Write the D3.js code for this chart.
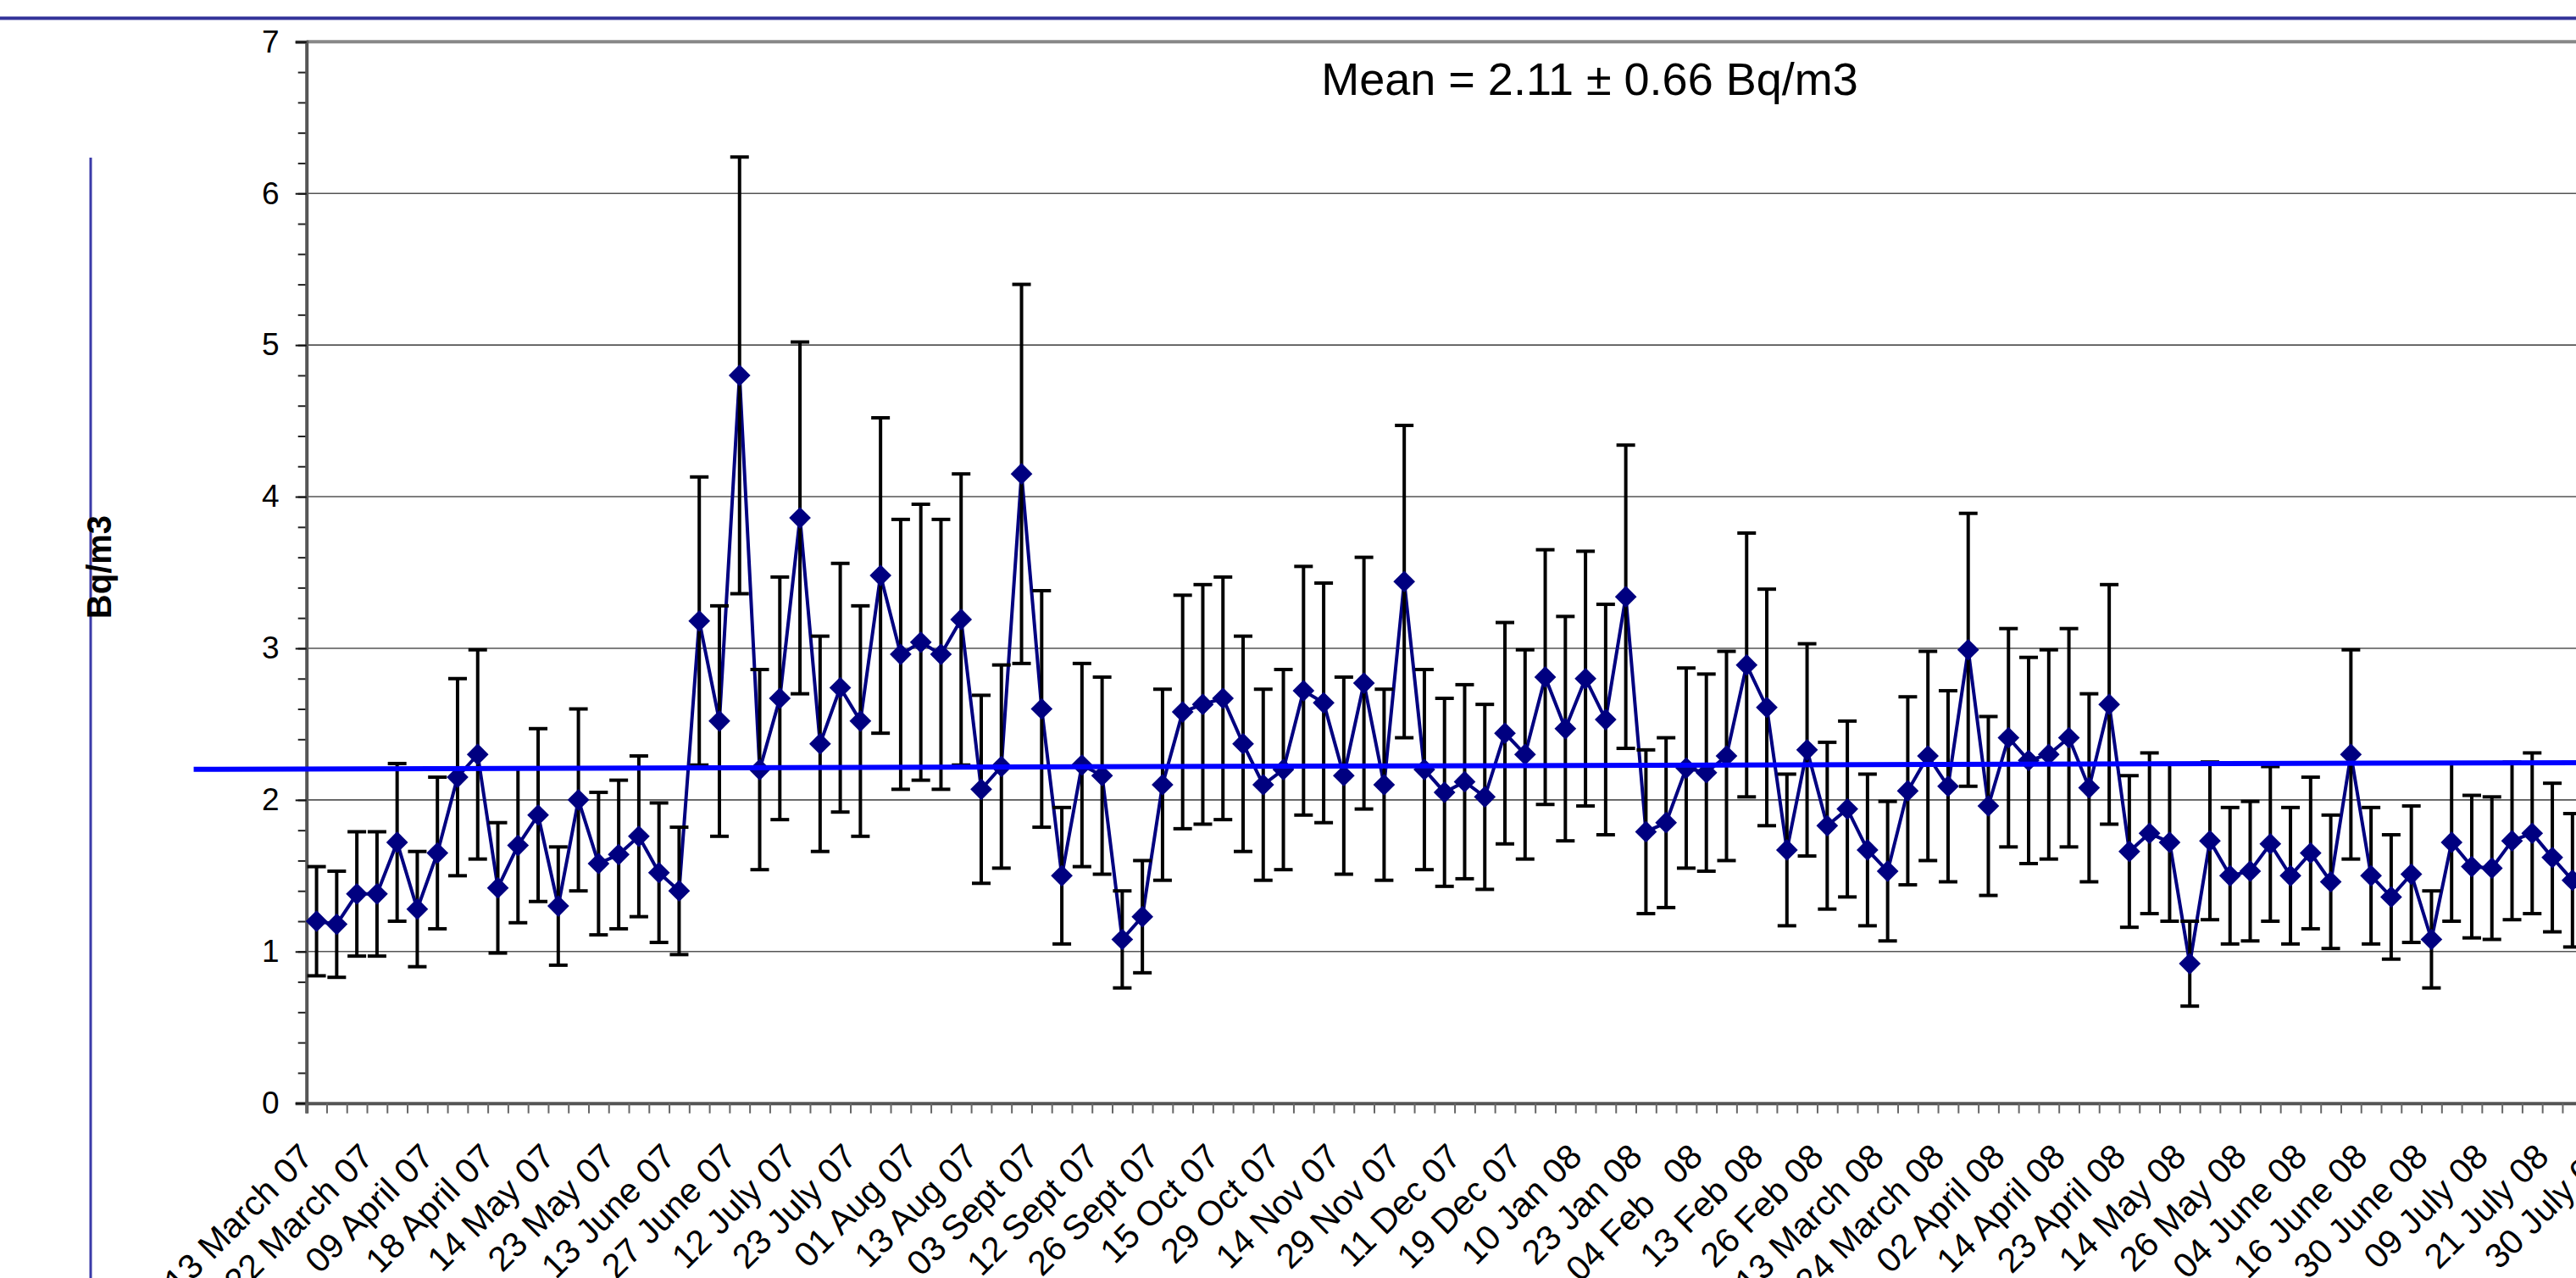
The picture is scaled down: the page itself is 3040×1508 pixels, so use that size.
<!DOCTYPE html>
<html>
<head>
<meta charset="utf-8">
<script src="https://cdn.jsdelivr.net/npm/d3@7"></script>
<style>
  html, body { margin: 0; padding: 0; background: #fff; overflow: hidden; }
  svg { display: block; font-family: "Liberation Sans", Arial, sans-serif; }
</style>
</head>
<body>
<div id="chart"></div>
<script>
// Radon in air, Bq/m3, sampled Mar 2007 - Jul 2008 (Excel style line chart with 30% error bars)

// category labels, one for every third sample
const LABELS = [
  "13 March 07", "22 March 07", "09 April 07", "18 April 07", "14 May 07",
  "23 May 07", "13 June 07", "27 June 07", "12 July 07", "23 July 07",
  "01 Aug 07", "13 Aug 07", "03 Sept 07", "12 Sept 07", "26 Sept 07",
  "15 Oct 07", "29 Oct 07", "14 Nov 07", "29 Nov 07", "11 Dec 07",
  "19 Dec 07", "10 Jan 08", "23 Jan 08", "04 Feb   08", "13 Feb 08",
  "26 Feb 08", "13 March 08", "24 March 08", "02 April 08", "14 April 08",
  "23 April 08", "14 May 08", "26 May 08", "04 June 08", "16 June 08",
  "30 June 08", "09 July 08", "21 July 08", "30 July 08"
];
const LABEL_STEP = 3;

// measured concentration
const VALUES = [
  1.20, 1.18, 1.38, 1.38, 1.72, 1.28, 1.65, 2.15, 2.30, 1.42,
  1.70, 1.90, 1.30, 2.00, 1.58, 1.64, 1.76, 1.52, 1.40, 3.18,
  2.52, 4.80, 2.20, 2.67, 3.86, 2.37, 2.74, 2.52, 3.48, 2.96,
  3.04, 2.96, 3.19, 2.07, 2.22, 4.15, 2.60, 1.50, 2.23, 2.16,
  1.08, 1.23, 2.10, 2.58, 2.63, 2.67, 2.37, 2.10, 2.20, 2.72,
  2.64, 2.16, 2.77, 2.10, 3.44, 2.20, 2.05, 2.12, 2.02, 2.44,
  2.30, 2.81, 2.47, 2.80, 2.53, 3.34, 1.79, 1.85, 2.21, 2.18,
  2.29, 2.89, 2.61, 1.67, 2.33, 1.83, 1.94, 1.67, 1.53, 2.06,
  2.29, 2.09, 2.99, 1.96, 2.41, 2.26, 2.30, 2.41, 2.08, 2.63,
  1.66, 1.78, 1.72, 0.92, 1.73, 1.50, 1.53, 1.71, 1.50, 1.65,
  1.46, 2.30, 1.50, 1.36, 1.51, 1.08, 1.72, 1.56, 1.55, 1.73,
  1.78, 1.62, 1.47
];

// half length of each error bar
const ERRORS = [
  0.36, 0.35, 0.41, 0.41, 0.52, 0.38, 0.50, 0.65, 0.69, 0.43,
  0.51, 0.57, 0.39, 0.60, 0.47, 0.49, 0.53, 0.46, 0.42, 0.95,
  0.76, 1.44, 0.66, 0.80, 1.16, 0.71, 0.82, 0.76, 1.04, 0.89,
  0.91, 0.89, 0.96, 0.62, 0.67, 1.25, 0.78, 0.45, 0.67, 0.65,
  0.32, 0.37, 0.63, 0.77, 0.79, 0.80, 0.71, 0.63, 0.66, 0.82,
  0.79, 0.65, 0.83, 0.63, 1.03, 0.66, 0.62, 0.64, 0.61, 0.73,
  0.69, 0.84, 0.74, 0.84, 0.76, 1.00, 0.54, 0.56, 0.66, 0.65,
  0.69, 0.87, 0.78, 0.50, 0.70, 0.55, 0.58, 0.50, 0.46, 0.62,
  0.69, 0.63, 0.90, 0.59, 0.72, 0.68, 0.69, 0.72, 0.62, 0.79,
  0.50, 0.53, 0.52, 0.28, 0.52, 0.45, 0.46, 0.51, 0.45, 0.50,
  0.44, 0.69, 0.45, 0.41, 0.45, 0.32, 0.52, 0.47, 0.47, 0.52,
  0.53, 0.49, 0.44
];

const Y_MAJOR = [0, 1, 2, 3, 4, 5, 6, 7];
const Y_GRID = [1, 2, 3, 4, 5, 6];

// hand drawn mean line (category position, value)
const MEAN_POS = [-5.6, 116];
const MEAN_VAL = [2.202, 2.247];
const MEAN_TEXT = "Mean = 2.11 \u00b1 0.66 Bq/m3";
const Y_TITLE = "Bq/m3";

const W = 3040, H = 1508;
const N_CATS = 116;
const STEP = 23.77;
const LEFT = 361.7, TOP = 49.3, BOTTOM = 1301.7;

const x = d3.scaleLinear().domain([0, N_CATS]).range([LEFT, LEFT + N_CATS * STEP]);
const y = d3.scaleLinear().domain([0, 7]).range([BOTTOM, TOP]);

const svg = d3.select("#chart").append("svg")
  .attr("width", W)
  .attr("height", H);

// slide decoration: top rule and left rule
svg.append("line")
  .attr("x1", 0).attr("x2", W)
  .attr("y1", 21.5).attr("y2", 21.5)
  .attr("stroke", "#333399").attr("stroke-width", 4);
svg.append("line")
  .attr("x1", 107).attr("x2", 107)
  .attr("y1", 186).attr("y2", H)
  .attr("stroke", "#3a3aa8").attr("stroke-width", 3);

// gridlines
svg.append("g")
  .selectAll("line")
  .data(Y_GRID)
  .join("line")
  .attr("x1", LEFT).attr("x2", x(N_CATS))
  .attr("y1", d => y(d)).attr("y2", d => y(d))
  .attr("stroke", "#555").attr("stroke-width", 1.6);

// plot border top
svg.append("line")
  .attr("x1", LEFT).attr("x2", x(N_CATS))
  .attr("y1", y(7)).attr("y2", y(7))
  .attr("stroke", "#888").attr("stroke-width", 4);

// y axis, minor then major ticks
const yMinor = svg.append("g")
  .attr("transform", `translate(${LEFT},0)`)
  .call(d3.axisLeft(y).tickValues(d3.range(0, 36).map(d => d / 5)).tickSize(10).tickFormat(""));
yMinor.select(".domain").remove();
yMinor.selectAll("line").attr("stroke", "#222").attr("stroke-width", 2);

const yAxis = svg.append("g")
  .attr("transform", `translate(${LEFT},0)`)
  .call(d3.axisLeft(y).tickValues(Y_MAJOR).tickSize(13).tickPadding(19).tickFormat(d3.format("d")));
yAxis.select(".domain").attr("stroke", "#555").attr("stroke-width", 4);
yAxis.selectAll(".tick line").attr("stroke", "#111").attr("stroke-width", 2);
yAxis.selectAll("text")
  .attr("font-family", "Liberation Sans, Arial, sans-serif")
  .attr("font-size", 37).attr("fill", "#000");

// x axis ticks between categories
const xAxis = svg.append("g")
  .attr("transform", `translate(0,${BOTTOM})`)
  .call(d3.axisBottom(x).tickValues(d3.range(0, N_CATS + 1)).tickSize(12).tickFormat(""));
xAxis.select(".domain").attr("stroke", "#555").attr("stroke-width", 4);
xAxis.selectAll(".tick line").attr("stroke", "#666").attr("stroke-width", 2);

// rotated category labels
svg.append("g")
  .selectAll("text")
  .data(LABELS)
  .join("text")
  .attr("transform", (d, i) => `translate(${x(i * LABEL_STEP + 0.5) - 2},${BOTTOM + 65.5}) rotate(-45)`)
  .attr("text-anchor", "end")
  .attr("font-size", 41)
  .attr("fill", "#000")
  .style("white-space", "pre")
  .text(d => d);

// y title
svg.append("text")
  .attr("transform", `translate(131,669) rotate(-90)`)
  .attr("text-anchor", "middle")
  .attr("font-size", 40)
  .attr("font-weight", "bold")
  .text(Y_TITLE);

// series
const pts = VALUES.map((v, i) => ({ i, v, e: ERRORS[i] }));

svg.append("path")
  .datum(pts)
  .attr("fill", "none")
  .attr("stroke", "#000080")
  .attr("stroke-width", 4)
  .attr("d", d3.line().x(d => x(d.i + 0.5)).y(d => y(d.v)));

const bars = svg.append("g").selectAll("g").data(pts).join("g");
bars.append("line")
  .attr("x1", d => x(d.i + 0.5)).attr("x2", d => x(d.i + 0.5))
  .attr("y1", d => y(d.v - d.e)).attr("y2", d => y(d.v + d.e))
  .attr("stroke", "#000").attr("stroke-width", 4);
bars.selectAll(".cap")
  .data(d => [d.v - d.e, d.v + d.e].map(v => ({ i: d.i, v })))
  .join("line")
  .attr("class", "cap")
  .attr("x1", d => x(d.i + 0.5) - 11).attr("x2", d => x(d.i + 0.5) + 11)
  .attr("y1", d => y(d.v)).attr("y2", d => y(d.v))
  .attr("stroke", "#000").attr("stroke-width", 4);

svg.append("g")
  .selectAll("path")
  .data(pts)
  .join("path")
  .attr("transform", d => `translate(${x(d.i + 0.5)},${y(d.v)}) rotate(45)`)
  .attr("d", d3.symbol(d3.symbolSquare, 330))
  .attr("fill", "#000080");

// mean line on top
svg.append("path")
  .datum(MEAN_POS.map((p, k) => [p, MEAN_VAL[k]]))
  .attr("fill", "none")
  .attr("stroke", "#0000ff")
  .attr("stroke-width", 6)
  .attr("d", d3.line().x(d => x(d[0])).y(d => y(d[1])));

svg.append("text")
  .attr("x", 1876)
  .attr("y", 112)
  .attr("text-anchor", "middle")
  .attr("font-size", 54)
  .text(MEAN_TEXT);
</script>
</body>
</html>
